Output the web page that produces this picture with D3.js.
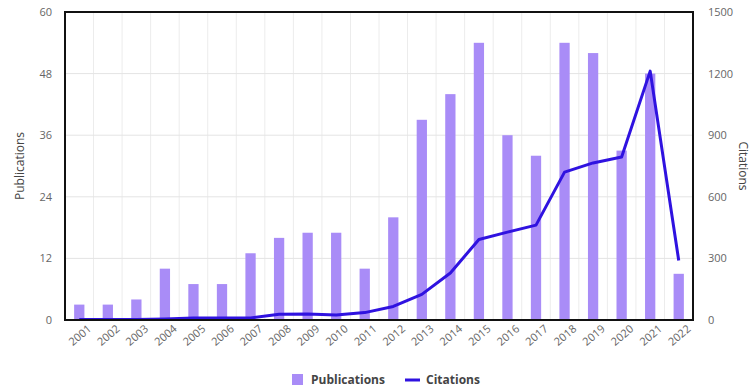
<!DOCTYPE html>
<html><head><meta charset="utf-8">
<script src="https://cdn.jsdelivr.net/npm/d3@7"></script>
<style>body{margin:0;background:#fff;font-family:"Open Sans",sans-serif;}</style>
</head><body><svg id="c" width="753" height="392"></svg>
<script>
const years = ["2001","2002","2003","2004","2005","2006","2007","2008","2009","2010","2011","2012","2013","2014","2015","2016","2017","2018","2019","2020","2021","2022"];
const publications = [3,3,4,10,7,7,13,16,17,17,10,20,39,44,54,36,32,54,52,33,48,9];
const citations = [2,2,3,5,10,10,10,28,29,24,36,66,125,229,392,428,462,720,765,794,1212,290];
const pubTicks = [0,12,24,36,48,60];
const citTicks = [0,300,600,900,1200,1500];

const svg = d3.select("#c");
const L=65,R=693,T=12,B=320;
const x = d3.scaleBand().domain(years).range([L,R]).paddingInner(0.64).paddingOuter(0.32);
const yL = d3.scaleLinear().domain([0,60]).range([B,T]);
const yR = d3.scaleLinear().domain([0,1500]).range([B,T]);

// grid
svg.append("g").selectAll("line").data(d3.range(1,years.length)).join("line")
  .attr("x1",i=>L+i*(R-L)/years.length).attr("x2",i=>L+i*(R-L)/years.length)
  .attr("y1",T).attr("y2",B).attr("stroke","#ececec").attr("stroke-width",1);
svg.append("g").selectAll("line").data(pubTicks.slice(1,-1)).join("line")
  .attr("x1",L).attr("x2",R).attr("y1",d=>yL(d)).attr("y2",d=>yL(d))
  .attr("stroke","#e4e4e4").attr("stroke-width",1);

// bars
svg.append("g").selectAll("rect").data(years).join("rect")
  .attr("x",d=>x(d)).attr("width",x.bandwidth())
  .attr("y",(d,i)=>yL(publications[i])).attr("height",(d,i)=>B-yL(publications[i]))
  .attr("fill","#a98cf7");

// line
const line = d3.line().x((d,i)=>x(years[i])+x.bandwidth()/2).y(d=>yR(d));
svg.append("path").datum(citations).attr("d",line).attr("fill","none")
  .attr("stroke","#2f12e0").attr("stroke-width",3).attr("stroke-linejoin","round");

// frame
svg.append("rect").attr("x",L).attr("y",T).attr("width",R-L).attr("height",B-T)
  .attr("fill","none").attr("stroke","#111").attr("stroke-width",2);

// axes
const axL = svg.append("g").attr("transform",`translate(${L},0)`)
  .call(d3.axisLeft(yL).tickValues(pubTicks).tickSize(0).tickPadding(13));
const axR = svg.append("g").attr("transform",`translate(${R},0)`)
  .call(d3.axisRight(yR).tickValues(citTicks).tickFormat(d3.format("d")).tickSize(0).tickPadding(15));
const axB = svg.append("g").attr("transform",`translate(0,${B})`)
  .call(d3.axisBottom(x).tickSize(0).tickPadding(6));
[axL,axR,axB].forEach(a=>{a.select(".domain").remove();
  a.selectAll("text").attr("fill","#666").attr("font-size","11px").attr("font-family","Open Sans");});
axB.selectAll("text").attr("text-anchor","end").attr("dx","0.3em").attr("dy","0.9em")
  .attr("transform","rotate(-40)");

svg.append("text").attr("transform",`translate(24,${(T+B)/2}) rotate(-90)`)
  .attr("text-anchor","middle").attr("font-size","12px").attr("fill","#444").text("Publications");
svg.append("text").attr("transform",`translate(739,${(T+B)/2}) rotate(90)`)
  .attr("text-anchor","middle").attr("font-size","12px").attr("fill","#444").text("Citations");

// legend
const lg = svg.append("g").attr("font-size","12px").attr("font-weight","bold").attr("fill","#444");
lg.append("rect").attr("x",292).attr("y",374).attr("width",11).attr("height",11).attr("fill","#a98cf7");
lg.append("text").attr("x",311).attr("y",384).text("Publications");
lg.append("line").attr("x1",405).attr("x2",420).attr("y1",380).attr("y2",380).attr("stroke","#2f12e0").attr("stroke-width",3);
lg.append("text").attr("x",426).attr("y",384).text("Citations");
</script></body></html>
